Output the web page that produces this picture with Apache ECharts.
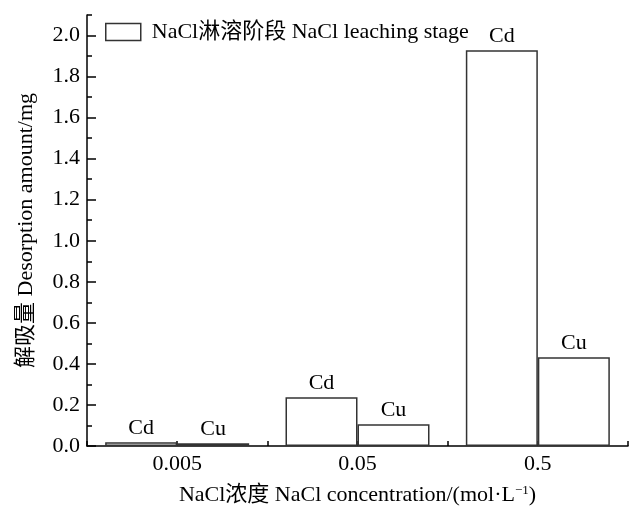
<!DOCTYPE html>
<html><head><meta charset="utf-8">
<script src="https://cdn.jsdelivr.net/npm/echarts@6/dist/echarts.min.js"></script>
<style>html,body{margin:0;padding:0;background:#fff}#c{width:629px;height:506px}</style>
</head><body><div id="c"></div>
<script>
const categories = ['0.005', '0.05', '0.5'];
const cdValues = [0.018, 0.237, 1.928];
const cuValues = [0.014, 0.106, 0.433];
const yTickLabels = ['0.0','0.2','0.4','0.6','0.8','1.0','1.2','1.4','1.6','1.8','2.0'];
const seriesName = 'NaCl淋溶阶段 NaCl leaching stage';
const FONT = "'Liberation Serif','Times New Roman','Noto Sans CJK SC',serif";
const FS = 22;
const LINE = '#000';
const BAR_BORDER = '#333';

const gridTop = 15, gridBottom = 60, gridH = 506 - gridTop - gridBottom;
const yMax = 2.1;
const grid2Top = gridTop + gridH * (yMax - 2.0) / yMax;

const chart = echarts.init(document.getElementById('c'), null, {renderer: 'canvas'});
const barStyle = {color: '#fff', borderColor: BAR_BORDER, borderWidth: 1.5};
const lbl = (t) => ({show: true, position: 'top', distance: 3, formatter: t, color: '#000', fontFamily: FONT, fontSize: FS});

chart.setOption({
  animation: false,
  backgroundColor: '#fff',
  textStyle: {fontFamily: FONT},
  grid: [
    {left: 87, right: 1, top: gridTop, bottom: gridBottom, outerBoundsMode: 'none', containLabel: false},
    {left: 87, right: 1, top: grid2Top, bottom: gridBottom, outerBoundsMode: 'none', containLabel: false}
  ],
  legend: {
    show: true,
    data: [seriesName],
    left: 105, top: 21, padding: 0,
    itemWidth: 35, itemHeight: 17,
    icon: 'rect',
    itemStyle: {color: '#fff', borderColor: BAR_BORDER, borderWidth: 1.5},
    textStyle: {fontFamily: FONT, fontSize: FS, color: '#000', padding: [0, 0, 0, 6]}
  },
  xAxis: [
    {
      type: 'category', gridIndex: 0, data: categories,
      boundaryGap: true,
      axisLine: {show: true, lineStyle: {color: LINE, width: 1.5}},
      axisTick: {show: true, inside: true, length: 5, alignWithLabel: false, lineStyle: {color: LINE, width: 1.5}},
      axisLabel: {color: '#000', fontFamily: FONT, fontSize: FS, margin: 7},
      splitLine: {show: false},
      name: 'NaCl浓度 NaCl concentration/(mol·L{sup|−1})',
      nameLocation: 'middle', nameGap: 38,
      nameTextStyle: {color: '#000', fontFamily: FONT, fontSize: FS,
        rich: {sup: {fontFamily: FONT, fontSize: 13, verticalAlign: 'top', padding: [0,0,10,0], color: '#000'}}}
    },
    {
      type: 'category', gridIndex: 0, data: categories,
      boundaryGap: true, position: 'bottom',
      axisLine: {show: false},
      axisTick: {show: true, inside: true, length: 5, alignWithLabel: true, lineStyle: {color: LINE, width: 1.5}},
      axisLabel: {show: false},
      splitLine: {show: false}
    },
    {type: 'category', gridIndex: 1, data: categories, show: false}
  ],
  yAxis: [
    {
      type: 'value', gridIndex: 0, min: 0, max: yMax, interval: 0.1,
      axisLine: {show: true, lineStyle: {color: LINE, width: 1.5}},
      axisTick: {show: true, inside: true, length: 5, lineStyle: {color: LINE, width: 1.5}},
      axisLabel: {color: '#000', fontFamily: FONT, fontSize: FS, margin: 7,
        formatter: function (v) {
          const k = v * 5, idx = Math.round(k);
          if (Math.abs(k - idx) < 1e-6 && idx < yTickLabels.length) return yTickLabels[idx];
          return '';
        }},
      splitLine: {show: false},
      name: '解吸量 Desorption amount/mg',
      nameLocation: 'middle', nameGap: 50,
      nameTextStyle: {color: '#000', fontFamily: FONT, fontSize: FS}
    },
    {
      type: 'value', gridIndex: 1, min: 0, max: 2.0, interval: 0.2,
      axisLine: {show: false},
      axisTick: {show: true, inside: true, length: 9, lineStyle: {color: LINE, width: 1.5}},
      axisLabel: {show: false},
      splitLine: {show: false}
    }
  ],
  series: [
    {name: seriesName, type: 'bar', xAxisIndex: 0, yAxisIndex: 0, data: cdValues,
     barWidth: 72, barGap: '0%', itemStyle: barStyle, label: lbl('Cd')},
    {name: seriesName, type: 'bar', xAxisIndex: 0, yAxisIndex: 0, data: cuValues,
     barWidth: 72, barGap: '0%', itemStyle: barStyle, label: lbl('Cu')}
  ]
});
</script></body></html>
